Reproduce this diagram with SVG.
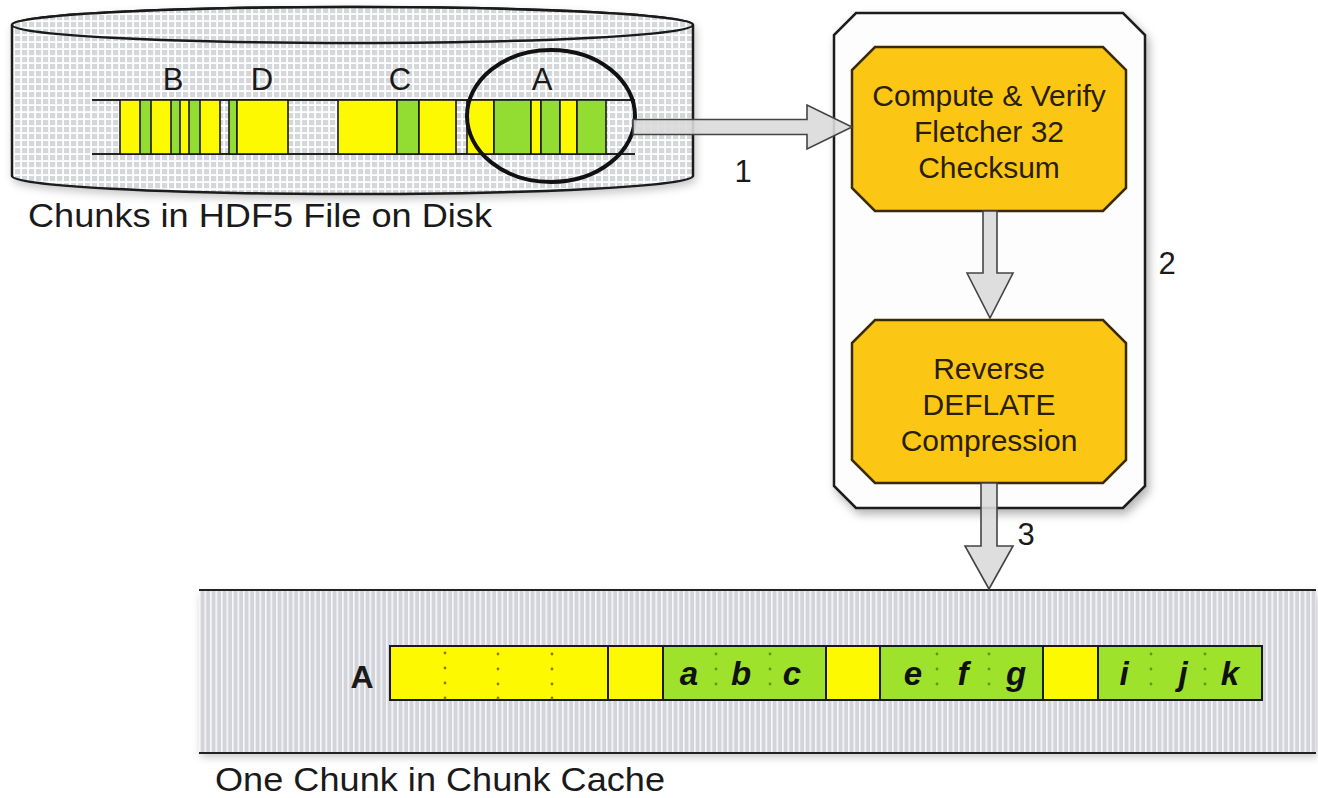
<svg xmlns="http://www.w3.org/2000/svg" width="1318" height="798" viewBox="0 0 1318 798">
  <defs>
    <pattern id="grid" x="0" y="0" width="7" height="7" patternUnits="userSpaceOnUse">
      <rect width="7" height="7" fill="#ffffff"/>
      <rect x="1" y="1" width="5.2" height="5.2" fill="#d6d7db"/>
    </pattern>
    <pattern id="stripes" x="199" y="0" width="5.5" height="10" patternUnits="userSpaceOnUse">
      <rect width="5.5" height="10" fill="#d3d4d9"/>
      <rect x="0" width="1.6" height="10" fill="#f7f7f9"/>
    </pattern>
    <filter id="shadow" x="-10%" y="-10%" width="125%" height="125%">
      <feDropShadow dx="3" dy="5" stdDeviation="5" flood-color="#000" flood-opacity="0.3"/>
    </filter>
    <filter id="soft" x="-5%" y="-20%" width="110%" height="150%">
      <feDropShadow dx="2" dy="4" stdDeviation="4" flood-color="#000" flood-opacity="0.22"/>
    </filter>
  </defs>
  <style>
    .lbl { font-family: "Liberation Sans", Arial, Helvetica, sans-serif; fill: #1a1a1a; }
    .big { font-size: 33px; }
    .mid { font-size: 31px; }
    .box { font-family: "Liberation Sans", Arial, Helvetica, sans-serif; font-size: 30px; fill: #2a1e00; text-anchor: middle; }
    .letter { font-family: "Liberation Sans", Arial, Helvetica, sans-serif; font-size: 33px; font-weight: bold; font-style: italic; fill: #111; text-anchor: middle; }
    .yel { fill: #fdf900; stroke: #1a1a1a; stroke-width: 1.6; }
    .grn { fill: #93dc32; stroke: #1a1a1a; stroke-width: 1.6; }
    .grn2 { fill: #9ee22c; stroke: #1a1a1a; stroke-width: 2; }
    .yel2 { fill: #fdf900; stroke: #1a1a1a; stroke-width: 2; }
    .rail { stroke: #222; stroke-width: 2; fill: none; }
    .orange { fill: #fbc714; stroke: #3a2a00; stroke-width: 2.5; }
    .arrow { fill: #dadada; fill-opacity: 0.9; stroke: #444; stroke-width: 1.6; stroke-linejoin: miter; }
    .dotY { fill: #8a7e00; }
    .dotG { fill: #5c9a12; }
  </style>

  <!-- Disk cylinder -->
  <g id="disk">
    <path d="M12,25 A340.5,18 0 0 1 693,25 L693,176 A340.5,18 0 0 1 12,176 Z" fill="url(#grid)" stroke="#1a1a1a" stroke-width="2.5" filter="url(#soft)"/>
    <ellipse cx="352.5" cy="25" rx="340.5" ry="18" fill="url(#grid)" stroke="#1a1a1a" stroke-width="2.5"/>
    <line class="rail" x1="92" y1="100" x2="635" y2="100"/>
    <line class="rail" x1="92" y1="154" x2="635" y2="154"/>
    <!-- B -->
    <rect class="yel" x="120" y="100" width="100" height="54"/>
    <rect class="grn" x="140" y="100" width="11" height="54"/>
    <rect class="grn" x="171" y="100" width="9" height="54"/>
    <rect class="grn" x="189" y="100" width="11" height="54"/>
    <rect class="grn" x="229" y="100" width="8" height="54"/>
    <!-- D -->
    <rect class="yel" x="237" y="100" width="51" height="54"/>
    <!-- C -->
    <rect class="yel" x="338" y="100" width="59" height="54"/>
    <rect class="grn" x="397" y="100" width="22" height="54"/>
    <rect class="yel" x="419" y="100" width="37" height="54"/>
    <!-- A -->
    <rect class="yel" x="467" y="100" width="27" height="54"/>
    <rect class="grn" x="494" y="100" width="37" height="54"/>
    <rect class="yel" x="531" y="100" width="10" height="54"/>
    <rect class="grn" x="541" y="100" width="19" height="54"/>
    <rect class="yel" x="560" y="100" width="17" height="54"/>
    <rect class="grn" x="577" y="100" width="29" height="54"/>
    <text class="lbl mid" x="173" y="90" text-anchor="middle">B</text>
    <text class="lbl mid" x="262" y="90" text-anchor="middle">D</text>
    <text class="lbl mid" x="400" y="90" text-anchor="middle">C</text>
    <text class="lbl mid" x="542" y="90" text-anchor="middle">A</text>
    <ellipse cx="551" cy="116" rx="84" ry="66" fill="none" stroke="#111" stroke-width="4"/>
  </g>
  <text class="lbl big" x="28" y="227" textLength="464" lengthAdjust="spacingAndGlyphs">Chunks in HDF5 File on Disk</text>

  <!-- Process box -->
  <g id="process">
    <path d="M856,13 L1123,13 L1145,35 L1145,486 L1123,508 L856,508 L834,486 L834,35 Z" fill="#fdfdfd" stroke="#1a1a1a" stroke-width="2.5" filter="url(#shadow)"/>
  </g>
  <g id="checksum">
    <path class="orange" d="M875,47 L1103,47 L1126,70 L1126,188 L1103,211 L875,211 L852,188 L852,70 Z"/>
    <text class="box" x="989" y="106">Compute &amp; Verify</text>
    <text class="box" x="989" y="142">Fletcher 32</text>
    <text class="box" x="989" y="178">Checksum</text>
  </g>
  <g id="deflate">
    <path class="orange" d="M875,320 L1103,320 L1126,343 L1126,460 L1103,483 L875,483 L852,460 L852,343 Z"/>
    <text class="box" x="989" y="379">Reverse</text>
    <text class="box" x="989" y="415">DEFLATE</text>
    <text class="box" x="989" y="451">Compression</text>
  </g>

  <!-- Chunk cache -->
  <g id="cache">
    <rect x="199" y="590" width="1117" height="163" fill="url(#stripes)" filter="url(#soft)"/>
    <line class="rail" x1="199" y1="590" x2="1316" y2="590" stroke-width="2.5"/>
    <line class="rail" x1="199" y1="753" x2="1316" y2="753" stroke-width="2.5"/>
    <text class="lbl" x="362" y="688" text-anchor="middle" font-size="32" font-weight="bold">A</text>
    <rect class="yel2" x="390" y="646" width="218" height="54"/>
    <rect class="yel2" x="608" y="646" width="55" height="54"/>
    <rect class="grn2" x="663" y="646" width="163" height="54"/>
    <rect class="yel2" x="826" y="646" width="54" height="54"/>
    <rect class="grn2" x="880" y="646" width="163" height="54"/>
    <rect class="yel2" x="1043" y="646" width="55" height="54"/>
    <rect class="grn2" x="1098" y="646" width="164" height="54"/>
    <g class="dotY">
      <circle cx="445" cy="653" r="1.4"/><circle cx="445" cy="668" r="1.4"/><circle cx="445" cy="683" r="1.4"/><circle cx="445" cy="698" r="1.4"/>
      <circle cx="498" cy="654" r="1.4"/><circle cx="498" cy="669" r="1.4"/><circle cx="498" cy="684" r="1.4"/><circle cx="498" cy="698" r="1.4"/>
      <circle cx="552" cy="654" r="1.4"/><circle cx="552" cy="669" r="1.4"/><circle cx="552" cy="684" r="1.4"/><circle cx="552" cy="698" r="1.4"/>
    </g>
    <g class="dotG">
      <circle cx="716" cy="654" r="1.4"/><circle cx="716" cy="669" r="1.4"/><circle cx="716" cy="684" r="1.4"/>
      <circle cx="770" cy="654" r="1.4"/><circle cx="770" cy="669" r="1.4"/><circle cx="770" cy="684" r="1.4"/>
      <circle cx="937" cy="654" r="1.4"/><circle cx="937" cy="669" r="1.4"/><circle cx="937" cy="684" r="1.4"/>
      <circle cx="989" cy="654" r="1.4"/><circle cx="989" cy="669" r="1.4"/><circle cx="989" cy="684" r="1.4"/>
      <circle cx="1151" cy="654" r="1.4"/><circle cx="1151" cy="669" r="1.4"/><circle cx="1151" cy="684" r="1.4"/>
      <circle cx="1205" cy="654" r="1.4"/><circle cx="1205" cy="669" r="1.4"/><circle cx="1205" cy="684" r="1.4"/>
    </g>
    <text class="letter" x="689" y="685">a</text>
    <text class="letter" x="741" y="685">b</text>
    <text class="letter" x="792" y="685">c</text>
    <text class="letter" x="913" y="685">e</text>
    <text class="letter" x="963" y="685">f</text>
    <text class="letter" x="1016" y="685">g</text>
    <text class="letter" x="1124" y="685">i</text>
    <text class="letter" x="1183" y="685">j</text>
    <text class="letter" x="1230" y="685">k</text>
  </g>
  <text class="lbl big" x="215" y="791" textLength="450" lengthAdjust="spacingAndGlyphs">One Chunk in Chunk Cache</text>

  <!-- Connectors -->
  <g id="connectors">
    <path class="arrow" d="M633,119.5 L807,119.5 L807,105 L852,127 L807,149 L807,134.5 L633,134.5 Z"/>
    <path class="arrow" d="M983,211 L997,211 L997,273 L1013,273 L990,318 L967,273 L983,273 Z"/>
    <path class="arrow" d="M981,483 L997,483 L997,546 L1013,546 L989,589 L965,546 L981,546 Z"/>
    <text class="lbl mid" x="743" y="182" text-anchor="middle">1</text>
    <text class="lbl mid" x="1167" y="274" text-anchor="middle">2</text>
    <text class="lbl mid" x="1026" y="545" text-anchor="middle">3</text>
  </g>
</svg>
